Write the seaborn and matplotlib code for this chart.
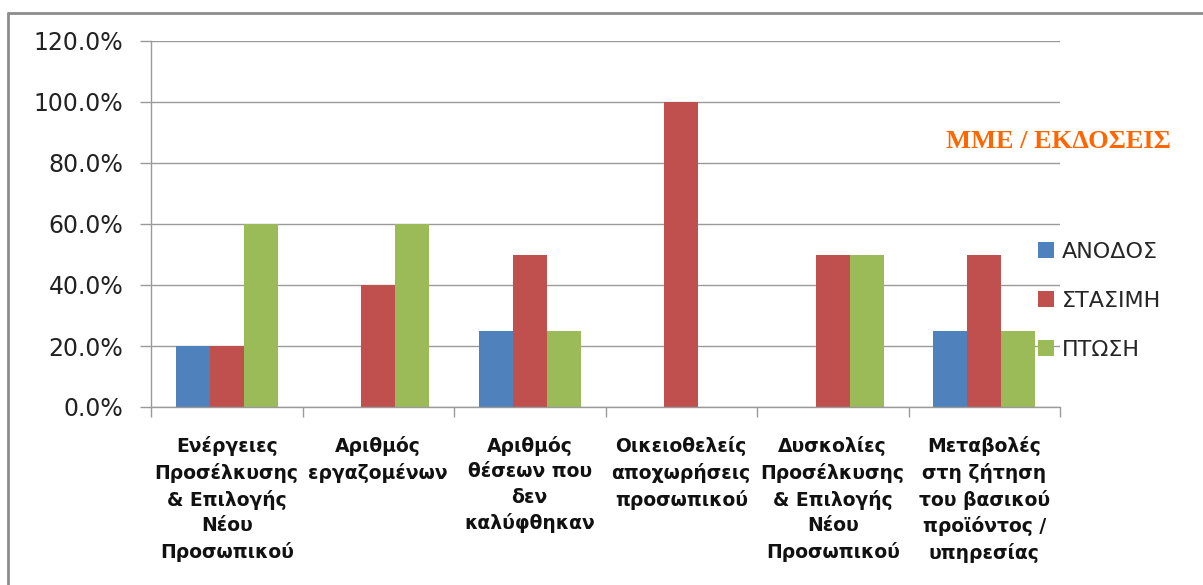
import matplotlib
matplotlib.use("Agg")
import matplotlib.pyplot as plt
from matplotlib.lines import Line2D
from matplotlib.ticker import FuncFormatter, MultipleLocator, FixedLocator
import seaborn as sns
import pandas as pd

categories = [
    "Ενέργειες\nΠροσέλκυσης\n& Επιλογής\nΝέου\nΠροσωπικού",
    "Αριθμός\nεργαζομένων",
    "Αριθμός\nθέσεων που\nδεν\nκαλύφθηκαν",
    "Οικειοθελείς\nαποχωρήσεις\nπροσωπικού",
    "Δυσκολίες\nΠροσέλκυσης\n& Επιλογής\nΝέου\nΠροσωπικού",
    "Μεταβολές\nστη ζήτηση\nτου βασικού\nπροϊόντος /\nυπηρεσίας",
]
series_names = ["ΑΝΟΔΟΣ", "ΣΤΑΣΙΜΗ", "ΠΤΩΣΗ"]
anodos = [0.20, 0.0, 0.25, 0.0, 0.0, 0.25]
stasimi = [0.20, 0.40, 0.50, 1.00, 0.50, 0.50]
ptosi = [0.60, 0.60, 0.25, 0.0, 0.50, 0.25]
colors = ["#4F81BD", "#C0504D", "#9BBB59"]
title = "ΜΜΕ / ΕΚΔΟΣΕΙΣ"

rows = []
for name, vals in zip(series_names, [anodos, stasimi, ptosi]):
    for c, v in zip(categories, vals):
        rows.append({"category": c, "series": name, "value": v})
df = pd.DataFrame(rows)

sns.set_theme(style="white")
plt.rcParams["font.family"] = ["DejaVu Sans"]

fig = plt.figure(figsize=(12.03, 5.85), dpi=100)
ax = fig.add_axes([151/1203, 1 - 407/585, (1060-151)/1203, (407-41)/585])

sns.barplot(data=df, x="category", y="value", hue="series", palette=colors,
            order=categories, hue_order=series_names, width=0.67,
            ax=ax, legend=True, edgecolor="none", saturation=1)

ax.set_ylim(0, 1.2)
ax.yaxis.set_major_locator(MultipleLocator(0.2))
ax.yaxis.set_major_formatter(FuncFormatter(lambda v, p: f"{v*100:.1f}%"))
ax.set_xlim(-0.5, len(categories) - 0.5)
ax.grid(axis="y", color="#9a9a9a", linewidth=1)
ax.set_axisbelow(True)
for s in ["top", "right"]:
    ax.spines[s].set_visible(False)
ax.spines["left"].set_color("#9a9a9a")
ax.spines["bottom"].set_color("#9a9a9a")
ax.spines["left"].set_linewidth(1)
ax.spines["bottom"].set_linewidth(1)

ax.tick_params(axis="y", which="major", length=8, color="#9a9a9a", width=1,
               labelsize=17, labelcolor="#222222", pad=12, left=True)
ax.set_xticks(range(len(categories)))
ax.set_xticklabels(categories, fontsize=13.5, fontweight="bold", color="#111111",
                   linespacing=1.42, va="top")
ax.tick_params(axis="x", which="major", length=0, pad=21)
ax.xaxis.set_minor_locator(FixedLocator([i - 0.5 for i in range(len(categories) + 1)]))
ax.tick_params(axis="x", which="minor", length=7, color="#9a9a9a", width=1, bottom=True)
ax.set_xlabel("")
ax.set_ylabel("")

handles, labels = ax.get_legend_handles_labels()
ax.legend(handles, labels, loc="upper left", bbox_to_anchor=(1018/1203, 1 - 222/585),
          bbox_transform=fig.transFigure, frameon=False, fontsize=16,
          handlelength=0.72, handleheight=0.72, handletextpad=0.35, labelspacing=1.3)

fig.text(1058/1203, 1 - 141/585, title, color="#FF6600", fontsize=19,
         fontweight="bold", family=["Liberation Serif"], ha="center", va="center")

# outer frame (left and top edges visible)
fig.add_artist(Line2D([8/1203, 8/1203], [0, 1 - 13/585], transform=fig.transFigure,
                      color="#8c8c8c", linewidth=2))
fig.add_artist(Line2D([8/1203, 1], [1 - 13/585, 1 - 13/585], transform=fig.transFigure,
                      color="#8c8c8c", linewidth=2))

fig.savefig("out.png", dpi=100, facecolor="white")
